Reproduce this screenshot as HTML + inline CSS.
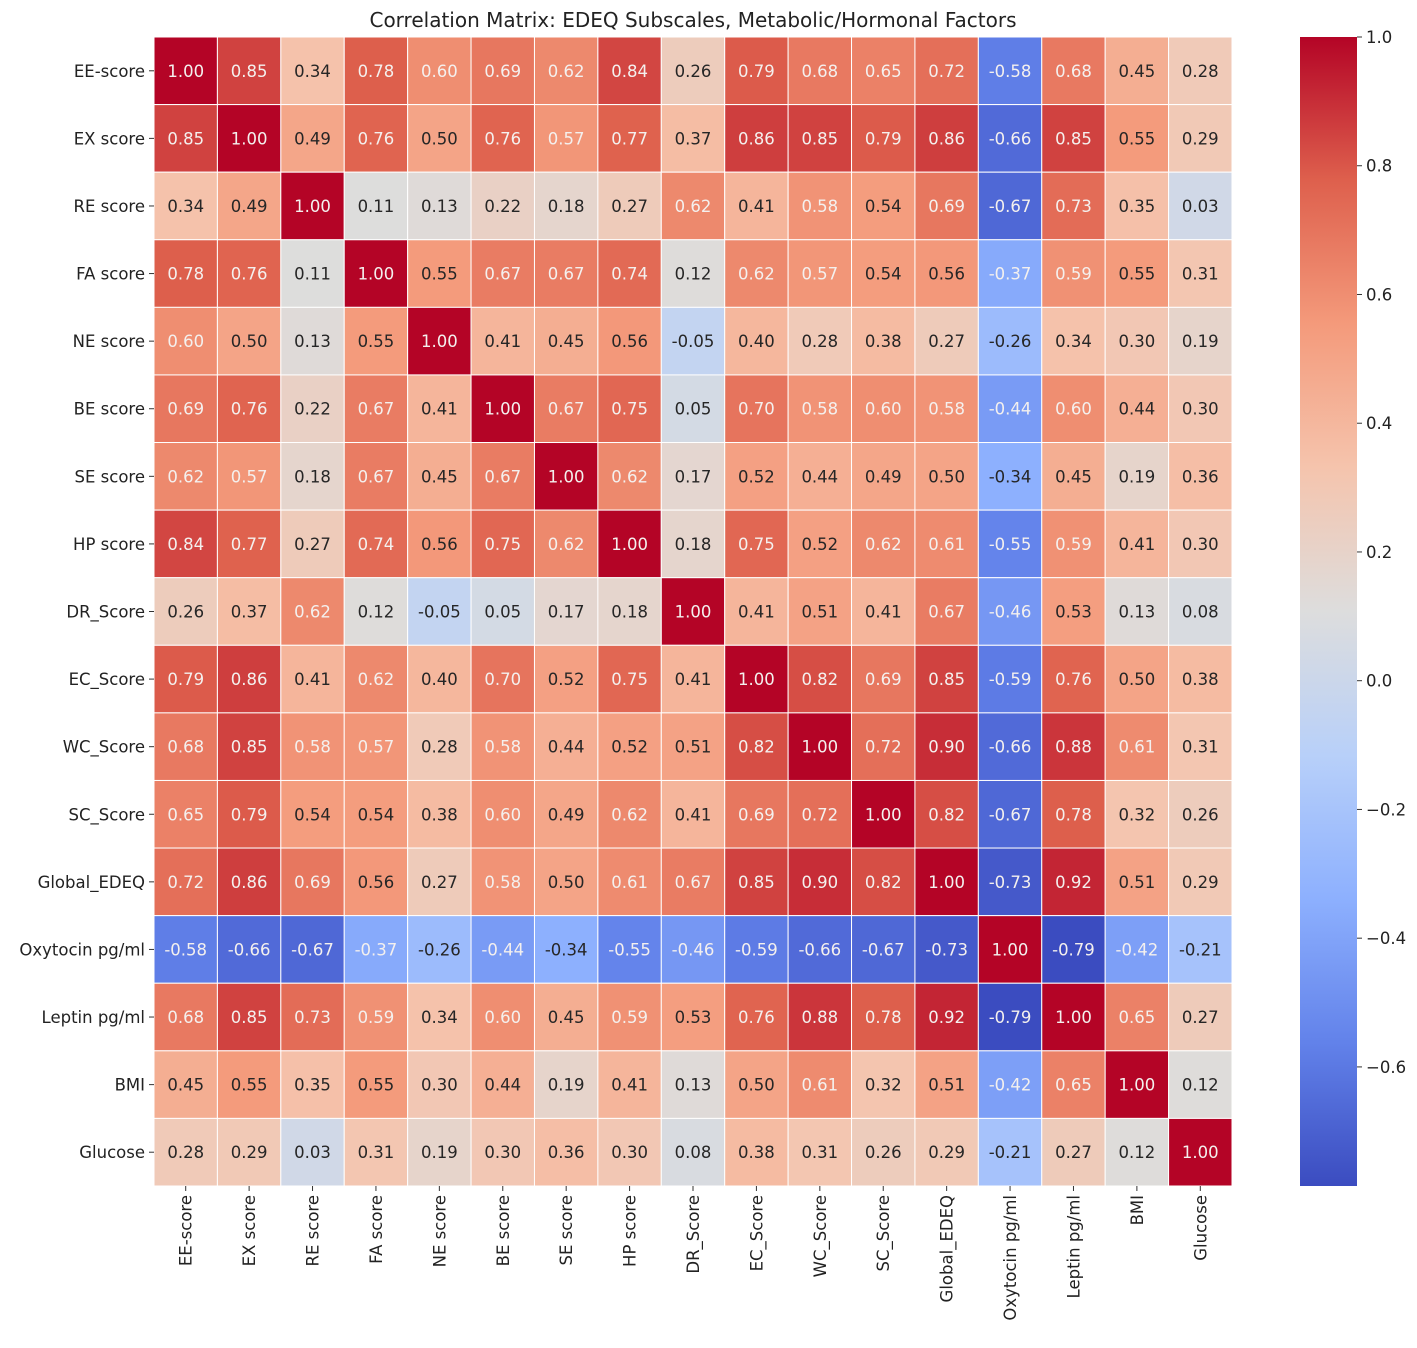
<!DOCTYPE html>
<html><head><meta charset="utf-8"><style>
html,body{margin:0;padding:0;background:#fff;}
svg{display:block;font-family:"DejaVu Sans","Liberation Sans",sans-serif;}
</style></head><body>
<svg id="chart" width="1417" height="1348" viewBox="0 0 1417 1348" xmlns="http://www.w3.org/2000/svg">
<text x="693" y="27" text-anchor="middle" font-size="20" fill="#222">Correlation Matrix: EDEQ Subscales, Metabolic/Hormonal Factors</text>
<g id="cells"></g><g id="ylabels"></g><g id="xlabels"></g><g id="cbar"></g>
</svg>
<script>
const labels = ["EE-score","EX score","RE score","FA score","NE score","BE score","SE score","HP score","DR_Score","EC_Score","WC_Score","SC_Score","Global_EDEQ","Oxytocin pg/ml","Leptin pg/ml","BMI","Glucose"];
const matrix = [
[1.00,0.85,0.34,0.78,0.60,0.69,0.62,0.84,0.26,0.79,0.68,0.65,0.72,-0.58,0.68,0.45,0.28],
[0.85,1.00,0.49,0.76,0.50,0.76,0.57,0.77,0.37,0.86,0.85,0.79,0.86,-0.66,0.85,0.55,0.29],
[0.34,0.49,1.00,0.11,0.13,0.22,0.18,0.27,0.62,0.41,0.58,0.54,0.69,-0.67,0.73,0.35,0.03],
[0.78,0.76,0.11,1.00,0.55,0.67,0.67,0.74,0.12,0.62,0.57,0.54,0.56,-0.37,0.59,0.55,0.31],
[0.60,0.50,0.13,0.55,1.00,0.41,0.45,0.56,-0.05,0.40,0.28,0.38,0.27,-0.26,0.34,0.30,0.19],
[0.69,0.76,0.22,0.67,0.41,1.00,0.67,0.75,0.05,0.70,0.58,0.60,0.58,-0.44,0.60,0.44,0.30],
[0.62,0.57,0.18,0.67,0.45,0.67,1.00,0.62,0.17,0.52,0.44,0.49,0.50,-0.34,0.45,0.19,0.36],
[0.84,0.77,0.27,0.74,0.56,0.75,0.62,1.00,0.18,0.75,0.52,0.62,0.61,-0.55,0.59,0.41,0.30],
[0.26,0.37,0.62,0.12,-0.05,0.05,0.17,0.18,1.00,0.41,0.51,0.41,0.67,-0.46,0.53,0.13,0.08],
[0.79,0.86,0.41,0.62,0.40,0.70,0.52,0.75,0.41,1.00,0.82,0.69,0.85,-0.59,0.76,0.50,0.38],
[0.68,0.85,0.58,0.57,0.28,0.58,0.44,0.52,0.51,0.82,1.00,0.72,0.90,-0.66,0.88,0.61,0.31],
[0.65,0.79,0.54,0.54,0.38,0.60,0.49,0.62,0.41,0.69,0.72,1.00,0.82,-0.67,0.78,0.32,0.26],
[0.72,0.86,0.69,0.56,0.27,0.58,0.50,0.61,0.67,0.85,0.90,0.82,1.00,-0.73,0.92,0.51,0.29],
[-0.58,-0.66,-0.67,-0.37,-0.26,-0.44,-0.34,-0.55,-0.46,-0.59,-0.66,-0.67,-0.73,1.00,-0.79,-0.42,-0.21],
[0.68,0.85,0.73,0.59,0.34,0.60,0.45,0.59,0.53,0.76,0.88,0.78,0.92,-0.79,1.00,0.65,0.27],
[0.45,0.55,0.35,0.55,0.30,0.44,0.19,0.41,0.13,0.50,0.61,0.32,0.51,-0.42,0.65,1.00,0.12],
[0.28,0.29,0.03,0.31,0.19,0.30,0.36,0.30,0.08,0.38,0.31,0.26,0.29,-0.21,0.27,0.12,1.00]
];
const cbarTicks = [1.0,0.8,0.6,0.4,0.2,0.0,-0.2,-0.4,-0.6];
const vmin = -0.785, vmax = 1.0;

const NS="http://www.w3.org/2000/svg";
const L=154,R=1232,T=37,B=1186,n=labels.length;
const cw=(R-L)/n, ch=(B-T)/n;
const stops=[[59,76,192],[98,130,234],[141,176,254],[184,208,249],[221,221,221],[245,196,173],[244,154,123],[222,96,77],[180,4,38]];
function cmap(v){let t=(v-vmin)/(vmax-vmin);t=Math.max(0,Math.min(1,t));const p=t*8,i=Math.min(7,Math.floor(p)),f=p-i;
 return stops[i].map((a,k)=>Math.round(a+(stops[i+1][k]-a)*f));}
function mk(tag,attrs,parent){const e=document.createElementNS(NS,tag);for(const k in attrs)e.setAttribute(k,attrs[k]);parent.appendChild(e);return e;}
const cells=document.getElementById('cells');
for(let r=0;r<n;r++)for(let c=0;c<n;c++){
 const v=matrix[r][c],col=cmap(v);
 const rect=mk('rect',{x:L+c*cw,y:T+r*ch,width:cw,height:ch,fill:`rgb(${col})`,stroke:'#fff','stroke-width':1},cells);
 
 
 const light=(v>=0.565||v<=-0.355);
 const tx=mk('text',{x:L+(c+0.5)*cw,y:T+(r+0.5)*ch+6,'text-anchor':'middle','font-size':16.5,fill:light?'#f4f0ee':'#262626'},cells);
 tx.textContent=v.toFixed(2);
 
 
}
const yl=document.getElementById('ylabels'),xl=document.getElementById('xlabels');
labels.forEach((lb,i)=>{
 const cy=T+(i+0.5)*ch;
 mk('line',{x1:L-5,x2:L,y1:cy,y2:cy,stroke:'#333','stroke-width':1},yl);
 const t=mk('text',{x:L-9,y:cy+6,'text-anchor':'end','font-size':16.5,fill:'#222'},yl);t.textContent=lb;
 
 
 const cx=L+(i+0.5)*cw;
 mk('line',{x1:cx,x2:cx,y1:B,y2:B+5,stroke:'#333','stroke-width':1},xl);
 const u=mk('text',{x:0,y:0,'text-anchor':'end','font-size':16.5,fill:'#222',transform:`translate(${cx+6},${B+9}) rotate(-90)`},xl);u.textContent=lb;
 
 
});
const cb=document.getElementById('cbar');
const CX=1300,CW=57;
const grad=mk('linearGradient',{id:'cg',x1:0,y1:1,x2:0,y2:0},mk('defs',{},cb));
for(let k=0;k<=8;k++)mk('stop',{offset:k/8,'stop-color':`rgb(${stops[k]})`},grad);
const bar=mk('rect',{x:CX,y:T,width:CW,height:B-T,fill:'url(#cg)'},cb);


function cyv(v){return B-(v-vmin)/(vmax-vmin)*(B-T);}
cbarTicks.forEach(v=>{const y=cyv(v);
 mk('line',{x1:CX+CW,x2:CX+CW+5,y1:y,y2:y,stroke:'#333'},cb);
 const t=mk('text',{x:CX+CW+9,y:y+6,'font-size':16.5,fill:'#222'},cb);t.textContent=(v<0?'\u2212':'')+Math.abs(v).toFixed(1);
 
 
});
</script>
</body></html>
